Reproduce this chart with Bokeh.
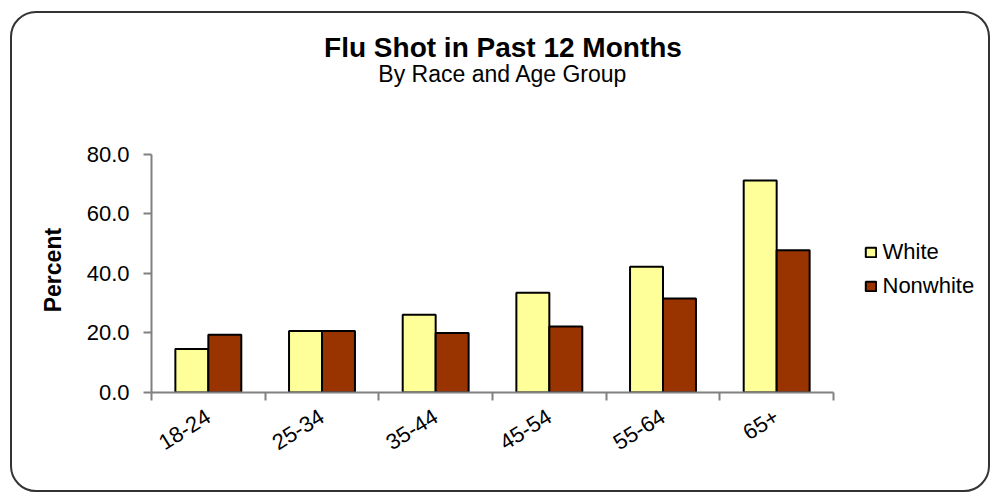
from math import pi
from bokeh.plotting import figure
from bokeh.models import (Range1d, LinearAxis, FixedTicker, Legend, LegendItem, Label,
                          NumeralTickFormatter, ColumnDataSource)
from bokeh.transform import dodge
from bokeh.embed import file_html
from bokeh.resources import INLINE

# ---- data ----
ages = ["18-24", "25-34", "35-44", "45-54", "55-64", "65+"]
white = [14.6, 20.6, 26.1, 33.5, 42.2, 71.1]
nonwhite = [19.4, 20.6, 20.0, 22.1, 31.5, 47.7]
series = ["White", "Nonwhite"]
y_ticks = [0, 20, 40, 60, 80]
title_text = "Flu Shot in Past 12 Months"
subtitle_text = "By Race and Age Group"
y_label = "Percent"

colors = ["#FFFF99", "#993300"]
FONT = "Liberation Sans"

n = len(ages)
centers = [i + 0.5 for i in range(n)]
edges = list(range(n + 1))
src = ColumnDataSource(dict(x=centers, age=ages, White=white, Nonwhite=nonwhite))

W, H = 980, 481
LEFT, BOTTOM = 139, 102
px_per_cat = 682 / 6
px_per_unit = 238.5 / 80
x_end = (W - LEFT) / px_per_cat
y_end = (H - BOTTOM) / px_per_unit

p = figure(width=W, height=H, output_backend="svg", toolbar_location=None,
           x_range=Range1d(0, x_end), y_range=Range1d(0, y_end),
           x_axis_location=None, y_axis_location=None, title=None,
           min_border_left=LEFT, min_border_right=0, min_border_top=0, min_border_bottom=BOTTOM)
p.outline_line_color = None
p.xgrid.visible = False
p.ygrid.visible = False
p.background_fill_color = None
p.border_fill_color = None
p.styles = {"border": "2.5px solid #333333", "border-radius": "26px",
            "margin-left": "10px", "margin-top": "11px", "overflow": "hidden"}

renderers = []
offsets = [-0.145, 0.145]
for s, c, off in zip(series, colors, offsets):
    r = p.vbar(x=dodge("x", off), top=s, width=0.29, source=src,
               fill_color=c, line_color="black", line_width=2)
    renderers.append(r)

# y axis (line limited to 0..80); label padded so it centres on the 0..80 span
yax = LinearAxis(ticker=FixedTicker(ticks=y_ticks), formatter=NumeralTickFormatter(format="0.0"),
                 bounds=(y_ticks[0], y_ticks[-1]))
yax.axis_line_color = "#808080"
yax.axis_line_width = 2
yax.major_tick_line_color = "#808080"
yax.major_tick_line_width = 2
yax.major_tick_out = 8
yax.major_tick_in = 0
yax.minor_tick_line_color = None
yax.major_label_text_font = FONT
yax.major_label_text_font_size = "22px"
yax.major_label_text_color = "black"
yax.major_label_standoff = 14
yax.axis_label = y_label + "\u00a0" * 21
yax.axis_label_text_font = FONT
yax.axis_label_text_font_style = "bold"
yax.axis_label_text_font_size = "23px"
yax.axis_label_text_color = "black"
yax.axis_label_standoff = 18
p.add_layout(yax, "left")

# x axis: labels at category centres, ticks at category edges
xax = LinearAxis(ticker=FixedTicker(ticks=centers, minor_ticks=edges), bounds=(0, n),
                 major_label_overrides={c: a for c, a in zip(centers, ages)})
xax.axis_line_color = "#808080"
xax.axis_line_width = 2
xax.major_tick_line_color = None
xax.major_tick_out = 0
xax.major_tick_in = 0
xax.minor_tick_line_color = "#808080"
xax.minor_tick_line_width = 2
xax.minor_tick_out = 8
xax.minor_tick_in = 0
xax.major_label_orientation = 0.56
xax.major_label_text_font = FONT
xax.major_label_text_font_size = "22px"
xax.major_label_text_color = "black"
xax.major_label_standoff = 14
p.add_layout(xax, "below")

legend = Legend(items=[LegendItem(label=s, renderers=[r]) for s, r in zip(series, renderers)])
legend.location = (712.5, 93)
legend.margin = 0
legend.padding = 0
legend.border_line_color = None
legend.background_fill_alpha = 0
legend.glyph_width = 13
legend.glyph_height = 12
legend.label_standoff = 6
legend.label_text_font = FONT
legend.label_text_font_size = "22px"
legend.label_text_color = "black"
legend.label_height = 25
legend.spacing = 8
p.add_layout(legend, "center")

p.add_layout(Label(x=351.5, y=345.5, x_units="screen", y_units="screen",
                   text=title_text, text_font=FONT, text_font_style="bold",
                   text_font_size="28px", text_align="center", text_baseline="middle",
                   text_color="black"))
p.add_layout(Label(x=351.5, y=318.5, x_units="screen", y_units="screen",
                   text=subtitle_text, text_font=FONT,
                   text_font_size="23px", text_align="center", text_baseline="middle",
                   text_color="black"))

open("out.html", "w").write(file_html(p, INLINE))
